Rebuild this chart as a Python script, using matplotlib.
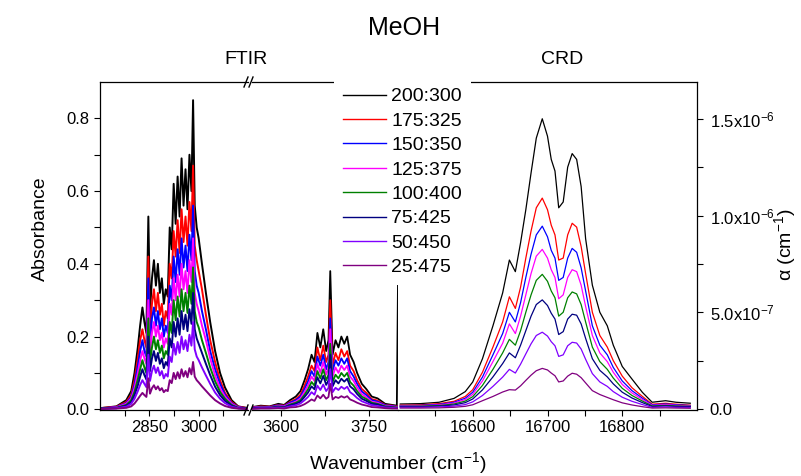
import matplotlib
matplotlib.use('Agg')
import matplotlib.pyplot as plt
from matplotlib.lines import Line2D
from matplotlib.ticker import FixedLocator

plt.rcParams['font.family'] = ['Liberation Sans', 'DejaVu Sans']
plt.rcParams['mathtext.fontset'] = 'custom'
plt.rcParams['mathtext.rm'] = 'Liberation Sans'
plt.rcParams['mathtext.it'] = 'Liberation Sans:italic'

# Legend labels and colours (ratio series)
labels = ['200:300', '175:325', '150:350', '125:375', '100:400', '75:425', '50:450', '25:475']
colors = ['black', 'red', 'blue', 'magenta', 'green', 'navy', '#8000ff', 'purple']

# FTIR, C-H stretch region (cm-1)
ch_x = [2700, 2750, 2780, 2795, 2805, 2815, 2822, 2829, 2835, 2841,
        2847, 2852, 2858, 2864, 2870, 2876, 2882, 2888, 2894, 2900,
        2906, 2912, 2918, 2924, 2930, 2936, 2942, 2948, 2954, 2960,
        2966, 2972, 2978, 2983, 2988, 2994, 3000, 3010, 3022, 3035,
        3050, 3065, 3080, 3100, 3120, 3150]
ch_200 = [0.003, 0.008, 0.025, 0.05, 0.10, 0.17, 0.23, 0.28, 0.24, 0.21,
          0.53, 0.27, 0.36, 0.41, 0.34, 0.40, 0.32, 0.36, 0.29, 0.33,
          0.31, 0.50, 0.44, 0.62, 0.51, 0.64, 0.53, 0.69, 0.56, 0.66,
          0.55, 0.70, 0.60, 0.85, 0.56, 0.50, 0.47, 0.40, 0.32, 0.24,
          0.16, 0.10, 0.06, 0.025, 0.008, 0.003]
ch_175 = [0.003, 0.007, 0.02, 0.04, 0.08, 0.14, 0.19, 0.22, 0.19, 0.17,
          0.42, 0.21, 0.29, 0.33, 0.27, 0.32, 0.26, 0.29, 0.23, 0.27,
          0.25, 0.40, 0.36, 0.49, 0.42, 0.52, 0.43, 0.55, 0.46, 0.53,
          0.45, 0.57, 0.49, 0.67, 0.45, 0.41, 0.38, 0.33, 0.26, 0.19,
          0.13, 0.08, 0.045, 0.02, 0.007, 0.003]
ch_150 = [0.002, 0.006, 0.017, 0.034, 0.068, 0.12, 0.16, 0.19, 0.16, 0.145,
          0.36, 0.18, 0.25, 0.28, 0.23, 0.27, 0.22, 0.25, 0.20, 0.23,
          0.21, 0.34, 0.30, 0.42, 0.35, 0.44, 0.37, 0.47, 0.39, 0.45,
          0.38, 0.48, 0.41, 0.56, 0.38, 0.34, 0.32, 0.27, 0.22, 0.16,
          0.11, 0.07, 0.04, 0.017, 0.006, 0.002]
ch_125 = [0.002, 0.005, 0.015, 0.03, 0.058, 0.10, 0.135, 0.16, 0.14, 0.125,
          0.30, 0.155, 0.21, 0.24, 0.20, 0.23, 0.19, 0.21, 0.17, 0.195,
          0.18, 0.29, 0.26, 0.36, 0.30, 0.37, 0.31, 0.40, 0.33, 0.38,
          0.32, 0.41, 0.35, 0.47, 0.32, 0.29, 0.27, 0.23, 0.19, 0.14,
          0.093, 0.058, 0.035, 0.015, 0.005, 0.002]
ch_100 = [0.002, 0.004, 0.012, 0.025, 0.048, 0.082, 0.11, 0.135, 0.115, 0.10,
          0.25, 0.13, 0.17, 0.20, 0.165, 0.19, 0.155, 0.175, 0.14, 0.16,
          0.15, 0.24, 0.21, 0.30, 0.245, 0.31, 0.255, 0.33, 0.27, 0.32,
          0.265, 0.34, 0.29, 0.39, 0.27, 0.24, 0.225, 0.19, 0.155, 0.115,
          0.077, 0.048, 0.029, 0.012, 0.004, 0.002]
ch_75 = [0.002, 0.003, 0.01, 0.02, 0.039, 0.066, 0.09, 0.11, 0.094, 0.082,
         0.20, 0.105, 0.14, 0.16, 0.133, 0.155, 0.125, 0.14, 0.113, 0.13,
         0.12, 0.195, 0.17, 0.24, 0.20, 0.25, 0.205, 0.27, 0.22, 0.26,
         0.215, 0.275, 0.235, 0.32, 0.22, 0.195, 0.18, 0.155, 0.125, 0.094,
         0.062, 0.039, 0.023, 0.01, 0.003, 0.002]
ch_50 = [0.001, 0.003, 0.007, 0.015, 0.029, 0.05, 0.067, 0.08, 0.07, 0.061,
         0.15, 0.078, 0.105, 0.12, 0.10, 0.115, 0.093, 0.105, 0.085, 0.097,
         0.09, 0.145, 0.13, 0.18, 0.15, 0.185, 0.155, 0.20, 0.165, 0.19,
         0.16, 0.205, 0.175, 0.24, 0.165, 0.145, 0.135, 0.115, 0.093, 0.07,
         0.046, 0.029, 0.017, 0.007, 0.003, 0.001]
ch_25 = [0.001, 0.002, 0.004, 0.008, 0.016, 0.028, 0.037, 0.045, 0.039, 0.034,
         0.085, 0.043, 0.058, 0.066, 0.055, 0.063, 0.052, 0.058, 0.047, 0.053,
         0.05, 0.08, 0.072, 0.10, 0.083, 0.102, 0.085, 0.11, 0.09, 0.105,
         0.088, 0.113, 0.096, 0.13, 0.09, 0.08, 0.074, 0.063, 0.051, 0.038,
         0.025, 0.016, 0.009, 0.004, 0.002, 0.001]

# FTIR, O-H stretch region (cm-1)
oh_x = [3550, 3565, 3580, 3595, 3605, 3615, 3625, 3633, 3640, 3646,
        3652, 3657, 3662, 3667, 3672, 3677, 3681, 3684, 3688, 3693,
        3698, 3703, 3708, 3713, 3718, 3724, 3730, 3738, 3746, 3755,
        3765, 3778, 3790, 3798, 3800]
oh_200 = [0.006, 0.01, 0.008, 0.015, 0.012, 0.025, 0.035, 0.05, 0.08, 0.11,
          0.15, 0.13, 0.21, 0.17, 0.22, 0.16, 0.19, 0.38, 0.15, 0.19,
          0.17, 0.20, 0.18, 0.20, 0.15, 0.13, 0.10, 0.07, 0.055, 0.035,
          0.03, 0.015, 0.012, 0.01, 0.35]
oh_175 = [0.005, 0.008, 0.007, 0.012, 0.01, 0.02, 0.028, 0.04, 0.065, 0.09,
          0.12, 0.105, 0.17, 0.135, 0.175, 0.13, 0.15, 0.30, 0.12, 0.155,
          0.135, 0.165, 0.145, 0.16, 0.12, 0.105, 0.08, 0.056, 0.045, 0.028,
          0.024, 0.012, 0.01, 0.008, 0.008]
oh_150 = [0.004, 0.007, 0.006, 0.011, 0.009, 0.018, 0.025, 0.035, 0.056, 0.077,
          0.105, 0.09, 0.145, 0.12, 0.15, 0.11, 0.13, 0.25, 0.105, 0.135,
          0.12, 0.14, 0.125, 0.14, 0.105, 0.09, 0.07, 0.049, 0.039, 0.025,
          0.021, 0.011, 0.009, 0.007, 0.007]
oh_125 = [0.004, 0.006, 0.005, 0.009, 0.008, 0.015, 0.021, 0.03, 0.048, 0.066,
          0.09, 0.078, 0.125, 0.10, 0.13, 0.095, 0.115, 0.22, 0.09, 0.115,
          0.10, 0.12, 0.108, 0.12, 0.09, 0.078, 0.06, 0.042, 0.033, 0.021,
          0.018, 0.009, 0.008, 0.006, 0.006]
oh_100 = [0.003, 0.005, 0.004, 0.008, 0.006, 0.013, 0.018, 0.025, 0.04, 0.055,
          0.075, 0.065, 0.105, 0.085, 0.11, 0.08, 0.095, 0.18, 0.075, 0.095,
          0.085, 0.10, 0.09, 0.10, 0.075, 0.065, 0.05, 0.035, 0.028, 0.018,
          0.015, 0.008, 0.006, 0.005, 0.005]
oh_75 = [0.003, 0.004, 0.004, 0.006, 0.005, 0.011, 0.015, 0.021, 0.034, 0.046,
         0.063, 0.055, 0.088, 0.071, 0.092, 0.067, 0.08, 0.15, 0.063, 0.08,
         0.071, 0.084, 0.076, 0.084, 0.063, 0.055, 0.042, 0.029, 0.023, 0.015,
         0.013, 0.006, 0.005, 0.004, 0.004]
oh_50 = [0.002, 0.003, 0.003, 0.005, 0.004, 0.008, 0.011, 0.016, 0.025, 0.034,
         0.047, 0.04, 0.065, 0.053, 0.068, 0.05, 0.059, 0.11, 0.047, 0.059,
         0.053, 0.062, 0.056, 0.062, 0.047, 0.04, 0.031, 0.022, 0.017, 0.011,
         0.009, 0.005, 0.004, 0.003, 0.003]
oh_25 = [0.001, 0.002, 0.002, 0.003, 0.002, 0.005, 0.006, 0.009, 0.014, 0.02,
         0.027, 0.023, 0.038, 0.03, 0.04, 0.029, 0.034, 0.07, 0.027, 0.034,
         0.031, 0.036, 0.032, 0.036, 0.027, 0.023, 0.018, 0.013, 0.01, 0.006,
         0.005, 0.003, 0.002, 0.002, 0.002]

# CRD absorption coefficient (units of 1e-6 cm-1)
crd_x = [16503, 16530, 16555, 16575, 16590, 16600, 16613, 16627, 16640, 16649,
         16657, 16664, 16671, 16678, 16685, 16693, 16700, 16705, 16710, 16715,
         16721, 16727, 16733, 16739, 16745, 16751, 16760, 16770, 16780, 16788,
         16800, 16813, 16827, 16840, 16858, 16872, 16891]
crd_200 = [0.026, 0.028, 0.035, 0.055, 0.09, 0.14, 0.26, 0.43, 0.60, 0.77,
           0.71, 0.86, 1.03, 1.22, 1.40, 1.50, 1.41, 1.29, 1.23, 1.04,
           1.07, 1.25, 1.32, 1.29, 1.15, 0.88, 0.64, 0.50, 0.43, 0.33,
           0.22, 0.155, 0.086, 0.035, 0.043, 0.035, 0.03]
crd_175 = [0.02, 0.022, 0.028, 0.04, 0.065, 0.10, 0.19, 0.32, 0.45, 0.58,
           0.52, 0.63, 0.78, 0.92, 1.04, 1.09, 1.03, 0.95, 0.90, 0.77,
           0.78, 0.90, 0.96, 0.94, 0.84, 0.70, 0.50, 0.38, 0.32, 0.25,
           0.17, 0.11, 0.065, 0.025, 0.03, 0.025, 0.02]
crd_150 = [0.018, 0.019, 0.024, 0.035, 0.056, 0.087, 0.165, 0.28, 0.39, 0.50,
           0.45, 0.55, 0.68, 0.80, 0.90, 0.945, 0.89, 0.82, 0.78, 0.665,
           0.68, 0.78, 0.83, 0.81, 0.73, 0.61, 0.43, 0.33, 0.28, 0.215,
           0.145, 0.095, 0.056, 0.022, 0.026, 0.022, 0.018]
crd_125 = [0.016, 0.017, 0.021, 0.031, 0.049, 0.076, 0.145, 0.245, 0.34, 0.44,
           0.39, 0.48, 0.59, 0.70, 0.79, 0.825, 0.78, 0.72, 0.68, 0.57,
           0.59, 0.68, 0.72, 0.71, 0.64, 0.53, 0.38, 0.29, 0.245, 0.19,
           0.127, 0.083, 0.049, 0.019, 0.023, 0.019, 0.016]
crd_100 = [0.014, 0.015, 0.018, 0.026, 0.041, 0.064, 0.122, 0.205, 0.29, 0.36,
           0.33, 0.405, 0.50, 0.59, 0.665, 0.696, 0.66, 0.61, 0.575, 0.48,
           0.50, 0.575, 0.605, 0.595, 0.54, 0.45, 0.32, 0.245, 0.205, 0.16,
           0.107, 0.07, 0.041, 0.016, 0.019, 0.016, 0.014]
crd_75 = [0.012, 0.012, 0.015, 0.021, 0.033, 0.052, 0.099, 0.166, 0.235, 0.29,
          0.265, 0.33, 0.405, 0.48, 0.54, 0.564, 0.535, 0.495, 0.465, 0.385,
          0.40, 0.465, 0.49, 0.485, 0.44, 0.365, 0.26, 0.20, 0.166, 0.13,
          0.087, 0.057, 0.033, 0.013, 0.016, 0.013, 0.012]
crd_50 = [0.009, 0.009, 0.011, 0.015, 0.023, 0.037, 0.07, 0.117, 0.165, 0.205,
          0.186, 0.232, 0.285, 0.337, 0.38, 0.397, 0.377, 0.348, 0.327, 0.272,
          0.28, 0.327, 0.345, 0.341, 0.31, 0.257, 0.183, 0.14, 0.117, 0.09,
          0.061, 0.04, 0.023, 0.009, 0.011, 0.009, 0.008]
crd_25 = [0.005, 0.005, 0.006, 0.009, 0.014, 0.022, 0.043, 0.065, 0.088, 0.10,
          0.098, 0.12, 0.148, 0.175, 0.198, 0.21, 0.202, 0.186, 0.172, 0.14,
          0.145, 0.17, 0.185, 0.18, 0.162, 0.135, 0.095, 0.075, 0.06, 0.048,
          0.032, 0.021, 0.012, 0.005, 0.006, 0.005, 0.004]

ch_series = [ch_200, ch_175, ch_150, ch_125, ch_100, ch_75, ch_50, ch_25]
oh_series = [oh_200, oh_175, oh_150, oh_125, oh_100, oh_75, oh_50, oh_25]
crd_series = [crd_200, crd_175, crd_150, crd_125, crd_100, crd_75, crd_50, crd_25]

# Right axis tick labels
crd_ticks = [0.0, 0.5e-6, 1.0e-6, 1.5e-6]
crd_ticklabels = ['0.0', '5.0x10$^{-7}$', '1.0x10$^{-6}$', '1.5x10$^{-6}$']

W, H = 801, 476
fig = plt.figure(figsize=(W / 100, H / 100), dpi=100)
bot, top = 410, 82
fb = (H - bot) / H
fh = (bot - top) / H
ax1 = fig.add_axes([100 / W, fb, 148 / W, fh])
ax2 = fig.add_axes([252 / W, fb, 146 / W, fh], sharey=ax1)
ax3 = fig.add_axes([398 / W, fb, 299 / W, fh])

lines = []
for ys, c in zip(ch_series, colors):
    ln, = ax1.plot(ch_x, ys, color=c, lw=1.4)
    lines.append(ln)
for ys, c in zip(oh_series, colors):
    ax2.plot(oh_x, ys, color=c, lw=1.3)
for ys, c in zip(crd_series, colors):
    ax3.plot(crd_x, [v * 1e-6 for v in ys], color=c, lw=0.9)

ax1.set_xlim(2700, 3150)
ax2.set_xlim(3550, 3800)
ax3.set_xlim(16500, 16900)
ax1.set_ylim(-0.002, 0.9)
ax3.set_ylim(-0.005e-6, 1.69e-6)

ax1.set_xticks([2850, 3000])
ax1.xaxis.set_minor_locator(FixedLocator([2775, 2925, 3075]))
ax2.set_xticks([3600, 3750])
ax2.xaxis.set_minor_locator(FixedLocator([3675]))
ax3.set_xticks([16600, 16700, 16800])
ax3.xaxis.set_minor_locator(FixedLocator([16550, 16650, 16750, 16850]))

ax1.set_yticks([0.0, 0.2, 0.4, 0.6, 0.8])
ax1.set_yticklabels(['0.0', '0.2', '0.4', '0.6', '0.8'])
ax1.yaxis.set_minor_locator(FixedLocator([0.1, 0.3, 0.5, 0.7]))

ax3.yaxis.tick_right()
ax3.set_yticks(crd_ticks)
ax3.set_yticklabels(crd_ticklabels)
ax3.yaxis.set_minor_locator(FixedLocator([0.25e-6, 0.75e-6, 1.25e-6]))

for ax in (ax1, ax2, ax3):
    for s in ax.spines.values():
        s.set_linewidth(0.9)
    ax.tick_params(which='both', direction='out', length=4, width=0.8,
                   labelsize=12, top=False)
    ax.patch.set_alpha(0)

ax1.spines['right'].set_visible(False)
ax2.spines['left'].set_visible(False)
ax2.spines['right'].set_visible(False)
ax2.tick_params(axis='y', which='both', left=False, labelleft=False)
ax3.spines['left'].set_visible(False)
ax3.tick_params(axis='y', which='both', left=False, right=True, pad=5)

# axis-break marks
for yb in (fb, fb + fh):
    for xb in (244, 249):
        fig.add_artist(Line2D([xb / W, (xb + 4) / W],
                              [yb - 5 / H, yb + 5 / H], color='black', lw=1.0))

leg = fig.legend(lines, labels, loc='upper left', bbox_to_anchor=(334 / W, 1 - 79 / H),
                 fontsize=14, frameon=True, fancybox=False, edgecolor='none',
                 facecolor='white', framealpha=1, borderaxespad=0, borderpad=0.45,
                 handlelength=2.2, handletextpad=0.3, labelspacing=0.35)
for hl in leg.get_lines():
    hl.set_linewidth(1.0)

fig.text(404 / W, 1 - 28 / H, 'MeOH', fontsize=18, ha='center', va='center')
fig.text(246 / W, 1 - 60 / H, 'FTIR', fontsize=14, ha='center', va='center')
fig.text(562 / W, 1 - 60 / H, 'CRD', fontsize=14, ha='center', va='center')
fig.text(40 / W, 1 - 229 / H, 'Absorbance', fontsize=14, rotation=90,
         ha='center', va='center')
fig.text(785 / W, 1 - 245 / H, 'α (cm$^{-1}$)', fontsize=14, rotation=90,
         ha='center', va='center')
fig.text(398 / W, 1 - 463 / H, 'Wavenumber (cm$^{-1}$)', fontsize=14,
         ha='center', va='center')

fig.savefig('out.png', dpi=100)
